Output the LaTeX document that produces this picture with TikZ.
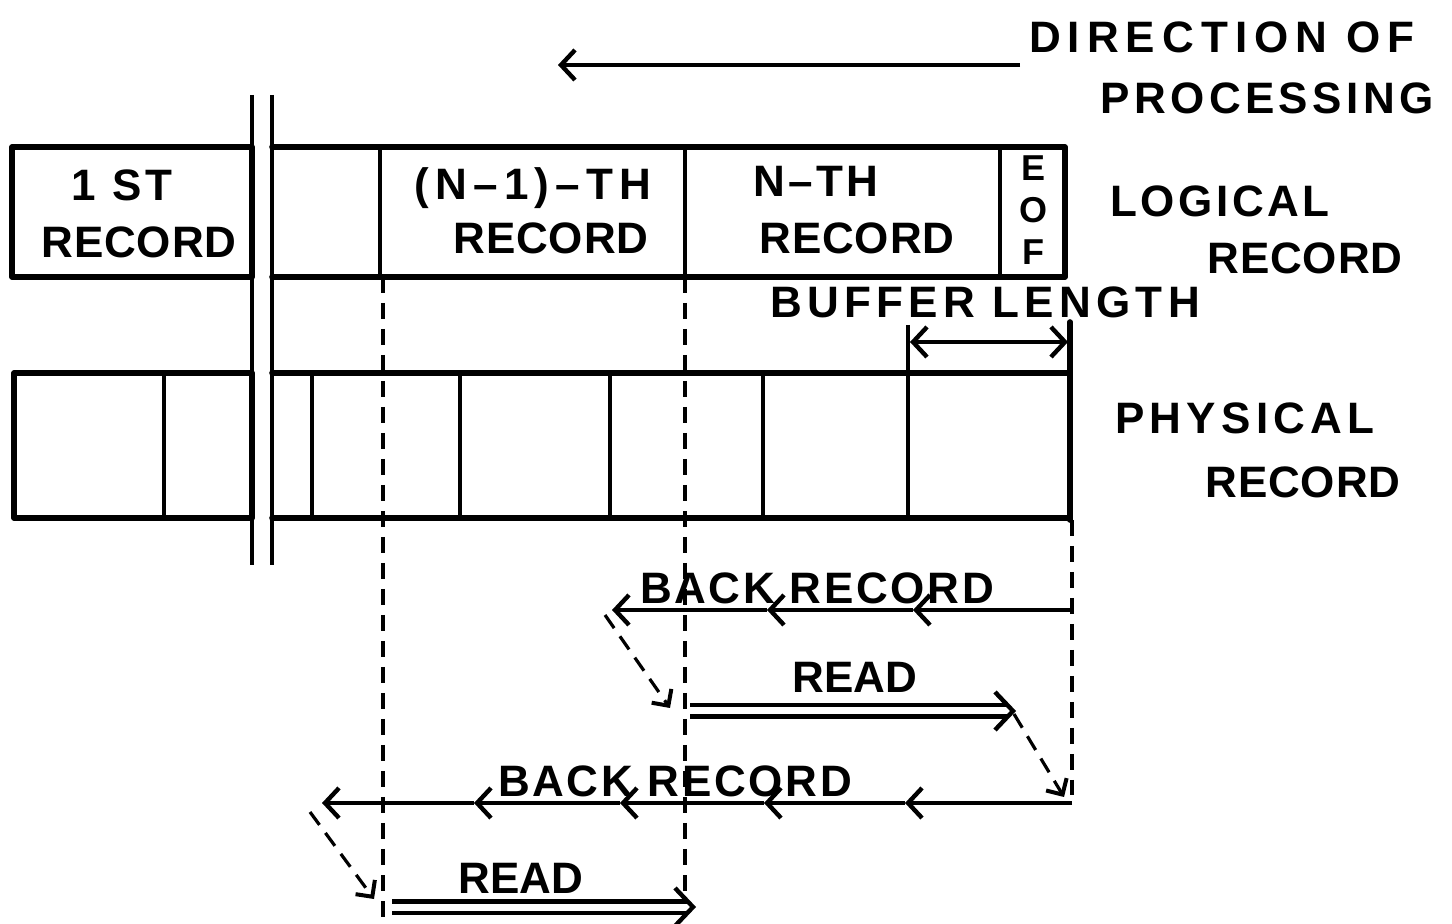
\documentclass[tikz,border=0pt]{standalone}
\usepackage{fontspec}
\setmainfont{Liberation Sans}
\newfontfamily\labfont{Liberation Sans}
\newcommand\lsp[1]{\addfontfeatures{LetterSpace=#1}}
\usetikzlibrary{arrows.meta}
\begin{document}
\begin{tikzpicture}[x=0.5pt,y=-0.5pt,
  box/.style={line width=2.8pt, line cap=round, line join=round},
  rule/.style={line width=2.2pt},
  guide/.style={line width=1.6pt, dash pattern=on 8pt off 5pt},
  barb/.style={-{Straight Barb[length=7pt,width=15pt,line width=2.2pt]}},
  hook/.style={-{Straight Barb[length=6pt,width=12pt,line width=2pt]}},
  lbl/.style={inner sep=0pt, text height=16pt, text depth=0pt,
    font=\labfont\bfseries\fontsize{22}{26}\selectfont},
  eof/.style={inner sep=0pt, text height=13pt, text depth=0pt,
    font=\labfont\bfseries\fontsize{18}{22}\selectfont},
  dbl/.style={line width=2.2pt, double, double distance=3.5pt}]
\useasboundingbox (0,0) rectangle (1452,924);

% ---------- logical record row ----------
\draw[box] (12,147) rectangle (252,277);
\draw[box] (272,147) -- (1065,147) -- (1065,277) -- (272,277);
\draw[rule] (380,147) -- (380,277);
\draw[rule] (685,147) -- (685,277);
\draw[rule] (1000,147) -- (1000,277);

% ---------- physical record row ----------
\draw[box] (14,373) rectangle (252,518);
\draw[rule] (164,373) -- (164,518);
\draw[box] (272,373) -- (1070,373);
\draw[box] (272,518) -- (1070,518);
\draw[box] (1070,322) -- (1070,520);
\foreach \x in {312,460,610,763} \draw[rule] (\x,373) -- (\x,518);
\draw[rule] (908,325) -- (908,518);

% ---------- break lines ----------
\draw[rule] (252,95) -- (252,565);
\draw[rule] (272,95) -- (272,565);

% ---------- dashed guides ----------
\draw[guide] (383,277) -- (383,918);
\draw[guide] (685,277) -- (685,905);
\draw[guide] (1072,520) -- (1072,795);

% ---------- coordinates ----------
\coordinate (dirS) at (1020,65);
\coordinate (dirE) at (558,65);
\coordinate (bufL) at (910,342);
\coordinate (bufR) at (1068,342);
\coordinate (b1s) at (1072,610);
\coordinate (b1a) at (913,610);
\coordinate (b1b) at (767,610);
\coordinate (b1e) at (612,610);
\coordinate (d1s) at (605,615);
\coordinate (d1e) at (670,708);
\coordinate (r1s) at (690,711);
\coordinate (r1e) at (1013,711);
\coordinate (d2s) at (1014,714);
\coordinate (d2e) at (1064,797);
\coordinate (b2s) at (1072,803);
\coordinate (b2a) at (905,803);
\coordinate (b2b) at (764,803);
\coordinate (b2c) at (620,803);
\coordinate (b2d) at (474,803);
\coordinate (b2e) at (322,803);
\coordinate (d3s) at (310,812);
\coordinate (d3e) at (374,899);
\coordinate (r2s) at (392,907);
\coordinate (r2e) at (693,907);

% ---------- direction of processing ----------
\draw[line width=1.8pt, barb] (dirS) -- (dirE);

% ---------- buffer length ----------
\draw[rule, {Straight Barb[length=7pt,width=15pt,line width=2.2pt]}-{Straight Barb[length=7pt,width=15pt,line width=2.2pt]}] (bufL) -- (bufR);

% ---------- first back record / read ----------
\draw[rule, barb] (b1s) -- (b1a);
\draw[rule, barb] (b1a) -- (b1b);
\draw[rule, barb] (b1b) -- (b1e);
\draw[guide, hook] (d1s) -- (d1e);
\draw[dbl, shorten >=3pt] (r1s) -- (r1e);
\draw[rule] ([shift={(-18,-19)}]r1e) -- (r1e) -- ([shift={(-18,19)}]r1e);
\draw[guide, hook] (d2s) -- (d2e);

% ---------- second back record / read ----------
\draw[rule, barb] (b2s) -- (b2a);
\draw[rule, barb] (b2a) -- (b2b);
\draw[rule, barb] (b2b) -- (b2c);
\draw[rule, barb] (b2c) -- (b2d);
\draw[rule, barb] (b2d) -- (b2e);
\draw[guide, hook] (d3s) -- (d3e);
\draw[dbl, shorten >=3pt] (r2s) -- (r2e);
\draw[rule] ([shift={(-18,-19)}]r2e) -- (r2e) -- ([shift={(-18,19)}]r2e);

% ---------- labels ----------
\node[lbl] (t1st) at (122,185) {\lsp{9}1 ST};
\node[lbl] (t1rec) at (139,242) {\lsp{2}RECORD};
\node[lbl] (tn1) at (533,184) {\lsp{14}(N–1)–TH};
\node[lbl] (tn1rec) at (551,238) {\lsp{2}RECORD};
\node[lbl] (tn) at (816,181) {\lsp{8}N–TH};
\node[lbl] (tnrec) at (857,238) {\lsp{2}RECORD};
\node[eof] (te) at (1033,168) {E};
\node[eof] (to) at (1033,210) {O};
\node[eof] (tf) at (1033,252) {F};

\node[lbl] (tdir) at (1222,37) {\lsp{16}DIRECTION OF};
\node[lbl] (tproc) at (1267,98) {\lsp{10}PROCESSING};
\node[lbl] (tlog) at (1220,201) {\lsp{8}LOGICAL};
\node[lbl] (tlogrec) at (1305,258) {\lsp{2}RECORD};
\node[lbl] (tbuf) at (985,302) {\lsp{12}BUFFER LENGTH};
\node[lbl] (tphy) at (1245,418) {\lsp{12}PHYSICAL};
\node[lbl] (tphyrec) at (1303,482) {\lsp{2}RECORD};

\node[lbl] (tback1) at (817,588) {\lsp{6}BACK RECORD};
\node[lbl] (tread1) at (855,677) {READ};
\node[lbl] (tback2) at (675,781) {\lsp{6}BACK RECORD};
\node[lbl] (tread2) at (521,877) {READ};
\end{tikzpicture}
\end{document}
